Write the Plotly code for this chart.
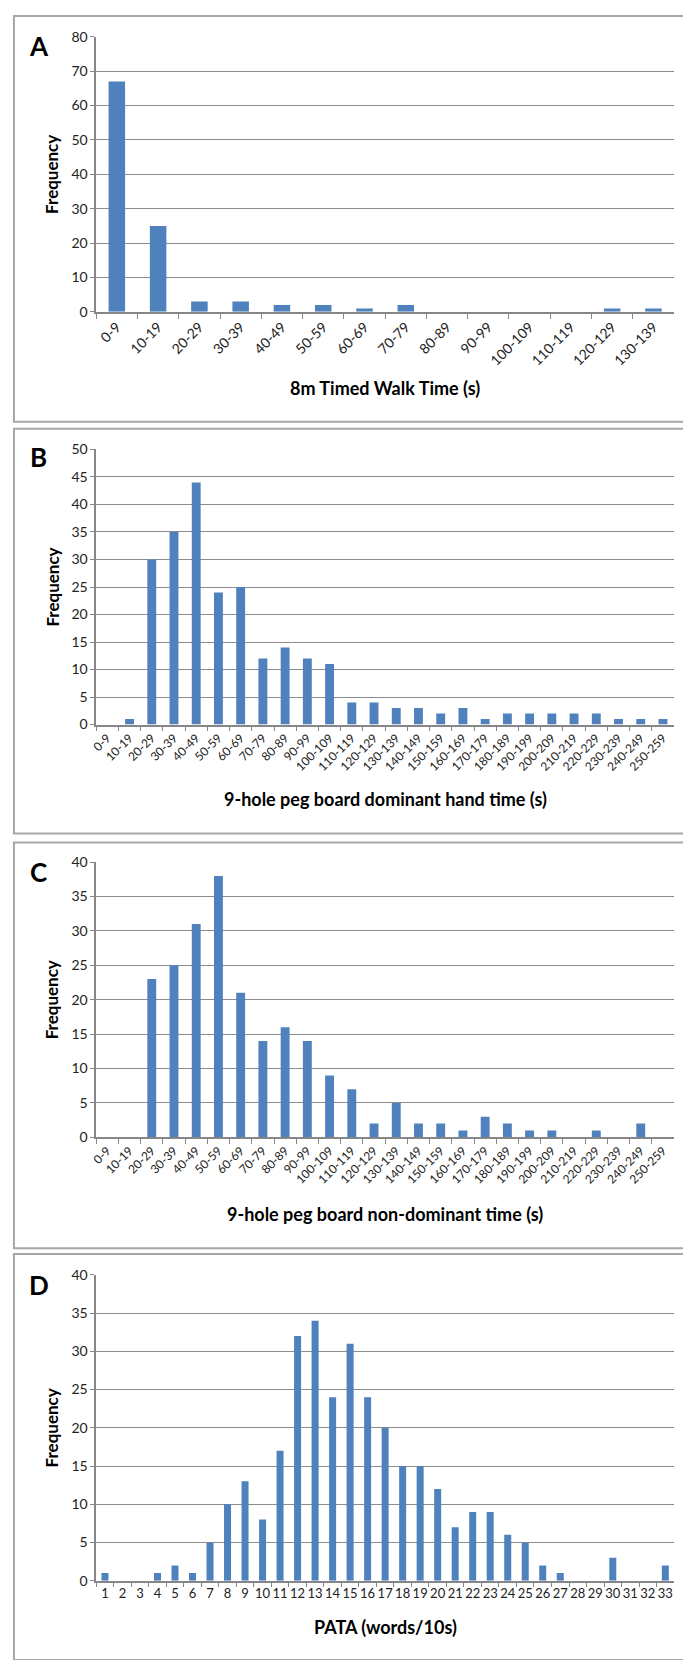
import plotly.graph_objects as go

# ---------------- data ----------------
cats_a = ["0-9", "10-19", "20-29", "30-39", "40-49", "50-59", "60-69", "70-79",
          "80-89", "90-99", "100-109", "110-119", "120-129", "130-139"]
vals_a = [67, 25, 3, 3, 2, 2, 1, 2, 0, 0, 0, 0, 1, 1]

cats_bc = ["0-9", "10-19", "20-29", "30-39", "40-49", "50-59", "60-69", "70-79",
           "80-89", "90-99", "100-109", "110-119", "120-129", "130-139", "140-149",
           "150-159", "160-169", "170-179", "180-189", "190-199", "200-209",
           "210-219", "220-229", "230-239", "240-249", "250-259"]
vals_b = [0, 1, 30, 35, 44, 24, 25, 12, 14, 12, 11, 4, 4, 3, 3, 2, 3, 1, 2, 2, 2, 2, 2, 1, 1, 1]
vals_c = [0, 0, 23, 25, 31, 38, 21, 14, 16, 14, 9, 7, 2, 5, 2, 2, 1, 3, 2, 1, 1, 0, 1, 0, 2, 0]

cats_d = [str(i) for i in range(1, 34)]
vals_d = [1, 0, 0, 1, 2, 1, 5, 10, 13, 8, 17, 32, 34, 24, 31, 24, 20, 15, 15, 12,
          7, 9, 9, 6, 5, 2, 1, 0, 0, 3, 0, 0, 2]

panels = [
    dict(letter="A", cats=cats_a, vals=vals_a, ymax=80, dtick=10,
         xtitle="8m Timed Walk Time (s)", tickfont=14, angle=-45),
    dict(letter="B", cats=cats_bc, vals=vals_b, ymax=50, dtick=5,
         xtitle="9-hole peg board dominant hand time (s)", tickfont=12, angle=-45),
    dict(letter="C", cats=cats_bc, vals=vals_c, ymax=40, dtick=5,
         xtitle="9-hole peg board non-dominant time (s)", tickfont=12, angle=-45),
    dict(letter="D", cats=cats_d, vals=vals_d, ymax=40, dtick=5,
         xtitle="PATA (words/10s)", tickfont=13, angle=0),
]

# ---------------- layout geometry (pixels) ----------------
W, H = 683, 1660
FONT = "Lato, 'Open Sans', sans-serif"
plot_left, plot_right = 91, 674
plot_tb = [(28, 306), (445, 723), (862, 1140), (1279, 1588)]
boxes = [(7, 417), (424, 833), (842, 1252), (1258, 1668)]
letter_y = [37, 453, 872, 1289]
xtitle_y = [383, 798, 1217, 1635]


def py(px):
    return 1 - px / H


fig = go.Figure()
shapes = []
annotations = []
for i, p in enumerate(panels):
    n = i + 1
    xa = "x" if n == 1 else f"x{n}"
    ya = "y" if n == 1 else f"y{n}"
    fig.add_trace(go.Bar(x=p["cats"], y=p["vals"], xaxis=xa, yaxis=ya,
                         marker=dict(color="#4F81BD", line=dict(width=0)),
                         showlegend=False))
    top, bot = plot_tb[i]
    xkey = "xaxis" if n == 1 else f"xaxis{n}"
    ykey = "yaxis" if n == 1 else f"yaxis{n}"
    fig.update_layout(**{
        xkey: dict(domain=[plot_left / W, plot_right / W], anchor=ya,
                   type="category", categoryorder="array", categoryarray=p["cats"],
                   tickson="boundaries", ticks="outside", ticklen=5, tickwidth=1,
                   tickcolor="#868686", showline=True, linecolor="#868686",
                   linewidth=1.5, showgrid=False, tickangle=p["angle"],
                   tickfont=dict(family=FONT, size=p["tickfont"], color="#222"),
                   fixedrange=True),
        ykey: dict(domain=[py(bot), py(top)], anchor=xa, range=[0, p["ymax"]],
                   dtick=p["dtick"], tick0=0, showgrid=True, gridcolor="#8C8C8C",
                   gridwidth=1.2, ticks="outside", ticklen=4, tickcolor="#868686",
                   showline=True, linecolor="#868686", linewidth=1.5,
                   zeroline=False,
                   tickfont=dict(family=FONT, size=14, color="#222"),
                   fixedrange=True),
    })
    b0, b1 = boxes[i]
    shapes.append(dict(type="rect", xref="paper", yref="paper",
                       x0=8 / W, x1=1.02, y0=py(b1), y1=py(b0),
                       line=dict(color="#A6A6A6", width=2), fillcolor="rgba(0,0,0,0)"))
    annotations.append(dict(text="<b>" + p["letter"] + "</b>", xref="paper", yref="paper",
                            x=33 / W, y=py(letter_y[i]), showarrow=False,
                            xanchor="center", yanchor="middle",
                            font=dict(family=FONT, size=26, color="#000")))
    annotations.append(dict(text="<b>Frequency</b>", xref="paper", yref="paper",
                            x=46 / W, y=py((top + bot) / 2), showarrow=False,
                            textangle=-90, xanchor="center", yanchor="middle",
                            font=dict(family=FONT, size=17, color="#000")))
    annotations.append(dict(text="<b>" + p["xtitle"] + "</b>", xref="paper", yref="paper",
                            x=(plot_left + plot_right) / 2 / W, y=py(xtitle_y[i]),
                            showarrow=False, xanchor="center", yanchor="middle",
                            font=dict(family=FONT, size=18, color="#000")))

fig.update_layout(width=W, height=H, margin=dict(l=0, r=0, t=0, b=0),
                  paper_bgcolor="white", plot_bgcolor="white",
                  bargap=0.6, shapes=shapes, annotations=annotations,
                  font=dict(family=FONT))

fig.write_html("out.html", config={"displayModeBar": False})
